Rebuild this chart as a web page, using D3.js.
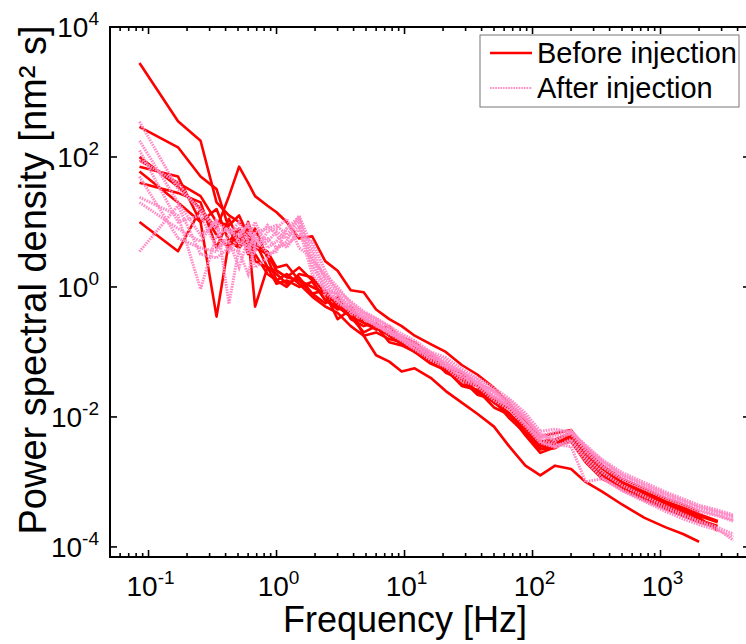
<!DOCTYPE html>
<html>
<head>
<meta charset="utf-8">
<script src="https://d3js.org/d3.v7.min.js"></script>
<style>
  body { margin: 0; background: #fff; }
  text { font-family: "Liberation Sans", Arial, sans-serif; fill: #000; }
</style>
</head>
<body>
<div id="chart"></div>
<script>
// frequency grid (Hz) shared by all spectra
var freqs = [0.085, 0.17, 0.255, 0.34, 0.425, 0.51, 0.6, 0.68, 0.85, 1.0,
  1.2, 1.5, 1.9, 2.4, 3.0, 3.8, 4.8, 6, 7.6, 9.5,
  12, 16, 21, 28, 37, 50, 66, 88, 115, 150,
  200, 260, 350, 500, 750, 1100, 1500, 2000, 2800, 3700];

// PSD [nm^2 s], before injection (solid red)
var before = [
  [2800, 355, 178, 20, 12.6, 10, 7.1, 4.0, 3.2, 1.78, 1.41, 1.26, 1.0, 0.79, 0.56, 0.4, 0.32, 0.25, 0.2, 0.166,
   0.14, 0.089, 0.058, 0.048, 0.03, 0.02, 0.0145, 0.0075, 0.0042, 0.0045, 0.0056, 0.0028, 0.0016, 0.001, 0.00071, 0.0005, 0.0004, 0.00032, 0.00025, null],
  [290, 141, 50, 32, 7.9, 4.0, 7.9, 2.5, 2.0, 1.12, 1.26, 1.0, 1.2, 0.63, 0.5, 0.35, 0.28, 0.24, 0.178, 0.15,
   0.1, 0.09, 0.06, 0.036, 0.03, 0.017, 0.0135, 0.0071, 0.0038, 0.0042, 0.0047, 0.0024, 0.0013, 0.00089, 0.00063, 0.00045, 0.00035, 0.00028, 0.000178, null],
  [100, 35, 16, 7.9, 25, 71, 40, 25, 17.8, 14.1, 10, 5.6, 6.0, 2.5, 1.78, 0.89, 0.83, 0.45, 0.32, 0.25,
   0.178, 0.132, 0.1, 0.063, 0.045, 0.028, 0.0158, 0.0089, 0.005, 0.0056, 0.0063, 0.0032, 0.0018, 0.00112, 0.00079, 0.00056, 0.00045, 0.00035, null, null],
  [10, 3.55, 15.8, 6.3, 4.0, 7.9, 3.2, 5.0, 2.0, 1.58, 1.12, 1.41, 0.79, 0.89, 0.5, 0.35, 0.2, 0.25, 0.141, 0.126,
   0.1, 0.066, 0.052, 0.032, 0.026, 0.0165, 0.0115, 0.0058, 0.0032, 0.0036, 0.0042, 0.002, 0.00112, 0.00079, 0.00056, 0.0004, 0.00032, 0.00025, 0.0002, null],
  [60, 20, 10, 0.35, 5.0, 7.9, 4.0, 3.2, 1.58, 1.26, 1.58, 1.12, 0.71, 0.5, 0.4, 0.25, 0.178, 0.089, 0.071, 0.05,
   0.056, 0.04, 0.025, 0.0166, 0.0112, 0.0071, 0.0035, 0.00178, 0.00126, 0.00178, 0.00158, 0.001, 0.00071, 0.00045, 0.00028, 0.0002, 0.000158, 0.00012, null, null],
  [89, 40, 25, 10, 8.9, 12.6, 6.3, 0.5, 2.0, 1.78, 1.41, 2.0, 1.26, 0.63, 0.45, 0.5, 0.28, 0.22, 0.25, 0.158,
   0.12, 0.079, 0.05, 0.042, 0.024, 0.018, 0.0095, 0.0056, 0.0032, 0.0033, 0.0048, 0.0021, 0.0012, 0.00076, 0.00052, 0.00038, 0.0003, 0.00024, 0.0002, null],
  [71, 50, 10, 15.8, 5.0, 4.0, 5.6, 7.9, 2.8, 1.26, 1.0, 1.58, 1.41, 0.79, 0.32, 0.45, 0.178, 0.2, 0.158, 0.141,
   0.1, 0.082, 0.048, 0.038, 0.022, 0.0185, 0.011, 0.0066, 0.0035, 0.0038, 0.0052, 0.0025, 0.0014, 0.00095, 0.00066, 0.00048, 0.00038, 0.0003, 0.00024, null],
  [40, 28, 20, 4.0, 11.2, 5.0, 10, 4.5, 3.5, 2.0, 2.2, 1.26, 0.79, 0.56, 0.71, 0.32, 0.25, 0.28, 0.178, 0.132,
   0.107, 0.07, 0.054, 0.03, 0.026, 0.014, 0.0108, 0.0052, 0.0028, 0.0034, 0.005, 0.0024, 0.00126, 0.00083, 0.0006, 0.00042, 0.00033, 0.00026, 0.00021, null]
];

// PSD [nm^2 s], after injection (dotted pink)
var after = [
  [350, 32, 16, 7.9, 7.1, 6.3, 8.9, 5.0, 5.6, 4.0, 5.0, 12.6, 4.0, 1.26, 0.71, 0.5, 0.38, 0.28, 0.21, 0.178,
   0.14, 0.092, 0.075, 0.048, 0.038, 0.024, 0.018, 0.0105, 0.0052, 0.0058, 0.006, 0.0035, 0.0021, 0.0013, 0.00092, 0.00066, 0.00052, 0.00042, 0.00035, 0.0003],
  [178, 20, 6.3, 10, 7.1, 7.9, 3.2, 7.1, 7.9, 8.9, 6.3, 11.2, 2.5, 1.58, 1.0, 0.56, 0.4, 0.32, 0.24, 0.166,
   0.13, 0.1, 0.06, 0.05, 0.033, 0.025, 0.015, 0.0095, 0.0052, 0.0045, 0.0056, 0.0031, 0.00185, 0.00118, 0.00083, 0.00059, 0.00047, 0.00037, 0.00031, 0.00026],
  [126, 10, 12.6, 4.0, 5.0, 2.0, 5.6, 10, 4.0, 5.0, 7.9, 10, 3.2, 0.79, 0.63, 0.4, 0.32, 0.26, 0.19, 0.15,
   0.112, 0.083, 0.06, 0.042, 0.03, 0.021, 0.014, 0.0079, 0.0045, 0.0038, 0.0035, 0.001, 0.00112, 0.00076, 0.00052, 0.00038, 0.0003, 0.00024, 0.00019, 0.000126],
  [24, 12.6, 0.93, 6.3, 7.9, 5.0, 4.0, 6.3, 3.2, 3.5, 7.9, 12, 2.0, 1.0, 0.56, 0.45, 0.33, 0.25, 0.2, 0.158,
   0.13, 0.085, 0.07, 0.044, 0.036, 0.022, 0.017, 0.0092, 0.0055, 0.0042, 0.0062, 0.0034, 0.002, 0.00125, 0.00087, 0.00063, 0.0005, 0.0004, 0.00034, 0.00028],
  [20, 7.9, 5.0, 11.2, 0.55, 4.0, 7.1, 5.0, 8.9, 6.3, 4.0, 7.9, 1.58, 0.89, 0.79, 0.42, 0.35, 0.3, 0.22, 0.17,
   0.12, 0.095, 0.065, 0.05, 0.032, 0.026, 0.0155, 0.01, 0.0047, 0.0052, 0.0055, 0.0029, 0.0017, 0.0011, 0.00078, 0.00056, 0.00045, 0.00035, 0.0003, 0.00025],
  [3.5, 17.8, 3.2, 2.8, 4.0, 3.5, 1.58, 4.5, 5.0, 7.1, 5.6, 8.9, 2.2, 1.12, 0.63, 0.48, 0.35, 0.26, 0.21, 0.158,
   0.117, 0.08, 0.066, 0.04, 0.034, 0.02, 0.0148, 0.0078, 0.0042, 0.0035, 0.0045, 0.0024, 0.0014, 0.00089, 0.0006, 0.00042, 0.00032, 0.00025, 0.0002, 0.000158],
  [89, 40, 14.1, 7.9, 3.5, 5.6, 10, 3.5, 7.1, 7.9, 11.2, 4.0, 2.8, 1.41, 0.89, 0.6, 0.42, 0.33, 0.25, 0.19,
   0.15, 0.1, 0.082, 0.055, 0.04, 0.028, 0.019, 0.0115, 0.006, 0.0065, 0.0058, 0.0037, 0.0022, 0.0014, 0.00098, 0.0007, 0.00055, 0.00044, 0.00037, 0.00031],
  [50, 5.6, 4.0, 3.5, 6.3, 10, 5.0, 2.0, 2.8, 4.0, 4.5, 6.3, 5.0, 1.78, 0.79, 0.5, 0.35, 0.27, 0.2, 0.15,
   0.11, 0.075, 0.058, 0.036, 0.03, 0.018, 0.013, 0.0072, 0.004, 0.0034, 0.0042, 0.0021, 0.00115, 0.00073, 0.0005, 0.00035, 0.00027, 0.00022, 0.00018, 0.000142]
];

var xTickVals = [1e-1, 1e0, 1e1, 1e2, 1e3];
var yTickVals = [1e-4, 1e-2, 1e0, 1e2, 1e4];
var legendLabels = ["Before injection", "After injection"];

var width = 746, height = 644;
var plotL = 110, plotT = 27, plotR = 750, plotB = 557;
var red = "#ff0000", pink = "#ff8cc6";

var svg = d3.select("#chart").append("svg")
  .attr("width", width)
  .attr("height", height);

var x = d3.scaleLog().domain([0.05, 5000]).range([plotL, plotR]);
var y = d3.scaleLog().domain([7e-5, 1e4]).range([plotB, plotT]);

svg.append("clipPath").attr("id", "plotclip")
  .append("rect")
  .attr("x", plotL).attr("y", plotT)
  .attr("width", plotR - plotL).attr("height", plotB - plotT);

var line = d3.line()
  .defined(function(d) { return d[1] != null; })
  .x(function(d) { return x(d[0]); })
  .y(function(d) { return y(d[1]); });

function pairs(vals) {
  return vals.map(function(v, i) { return [freqs[i], v]; });
}

var plot = svg.append("g").attr("clip-path", "url(#plotclip)");

plot.selectAll("path.before")
  .data(before)
  .enter().append("path")
  .attr("class", "before")
  .attr("d", function(d) { return line(pairs(d)); })
  .attr("fill", "none")
  .attr("stroke", red)
  .attr("stroke-width", 2.6)
  .attr("stroke-linejoin", "round");

plot.selectAll("path.after")
  .data(after)
  .enter().append("path")
  .attr("class", "after")
  .attr("d", function(d) { return line(pairs(d)); })
  .attr("fill", "none")
  .attr("stroke", pink)
  .attr("stroke-width", 3)
  .attr("stroke-dasharray", "1.6,1");

// frame
var axis = svg.append("g").attr("stroke", "#000").attr("stroke-width", 2);
axis.append("rect")
  .attr("x", plotL).attr("y", plotT)
  .attr("width", plotR - plotL).attr("height", plotB - plotT)
  .attr("fill", "none");

// x ticks, major + minor, inward on bottom and top
x.ticks().forEach(function(t) {
  var major = xTickVals.some(function(m) { return Math.abs(m / t - 1) < 1e-6; });
  var len = major ? 7 : 4;
  var px = x(t);
  axis.append("line").attr("x1", px).attr("x2", px).attr("y1", plotB).attr("y2", plotB - len).attr("stroke-width", 1.6);
  axis.append("line").attr("x1", px).attr("x2", px).attr("y1", plotT).attr("y2", plotT + len).attr("stroke-width", 1.6);
});

yTickVals.forEach(function(t) {
  var py = y(t);
  axis.append("line").attr("x1", plotL).attr("x2", plotL + 7).attr("y1", py).attr("y2", py).attr("stroke-width", 1.6);
  axis.append("line").attr("x1", plotR).attr("x2", plotR - 7).attr("y1", py).attr("y2", py).attr("stroke-width", 1.6);
});

// tick labels as 10^n
function powLabel(sel, t) {
  var e = Math.round(Math.log10(t));
  sel.append("tspan").text("10");
  sel.append("tspan").attr("dy", -12).attr("font-size", 19).text(e);
}

xTickVals.forEach(function(t) {
  var txt = svg.append("text")
    .attr("x", x(t) + 2)
    .attr("y", 596)
    .attr("text-anchor", "middle")
    .attr("font-size", 28);
  powLabel(txt, t);
});

yTickVals.forEach(function(t) {
  var txt = svg.append("text")
    .attr("x", 99)
    .attr("y", y(t) + 10)
    .attr("text-anchor", "end")
    .attr("font-size", 28);
  powLabel(txt, t);
});

// axis titles
svg.append("text")
  .attr("x", 405)
  .attr("y", 632)
  .attr("text-anchor", "middle")
  .attr("font-size", 36)
  .text("Frequency [Hz]");

svg.append("text")
  .attr("transform", "translate(46,280) rotate(-90)")
  .attr("text-anchor", "middle")
  .attr("font-size", 38)
  .text("Power spectral density [nm² s]");

// legend
var lg = svg.append("g");
lg.append("rect")
  .attr("x", 480).attr("y", 35)
  .attr("width", 259).attr("height", 72)
  .attr("fill", "#fff")
  .attr("stroke", "#777")
  .attr("stroke-width", 1);

[red, pink].forEach(function(c, i) {
  var ly = 53 + i * 35;
  lg.append("line")
    .attr("x1", 490).attr("x2", 532)
    .attr("y1", ly).attr("y2", ly)
    .attr("stroke", c)
    .attr("stroke-width", i ? 2 : 2.6)
    .attr("stroke-dasharray", i ? "1.6,1" : null);
  lg.append("text")
    .attr("x", 537)
    .attr("y", ly + 10)
    .attr("font-size", 29)
    .text(legendLabels[i]);
});
</script>
</body>
</html>
